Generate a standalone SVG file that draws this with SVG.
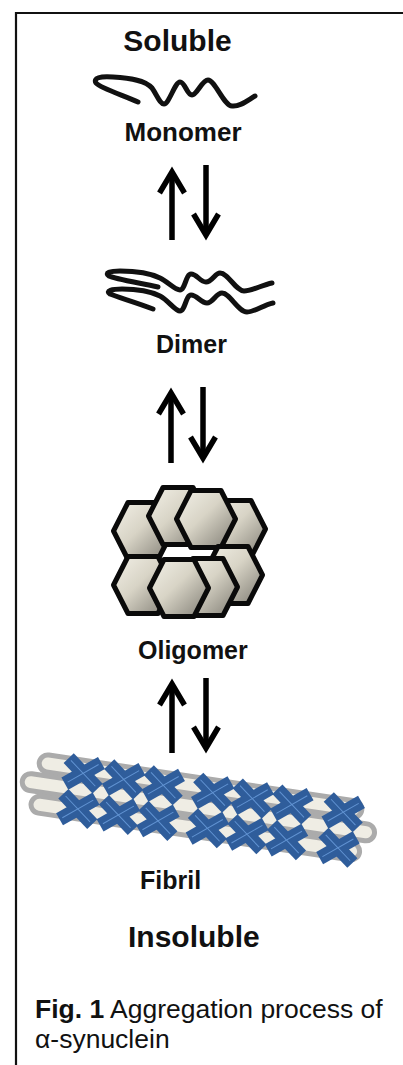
<svg xmlns="http://www.w3.org/2000/svg" width="403" height="1065" viewBox="0 0 403 1065">
<style>
.t{font-family:"Liberation Sans",Arial,sans-serif;fill:#111;}
.b{font-weight:bold;}
.sq{fill:none;stroke:#111;stroke-width:5;stroke-linecap:round;stroke-linejoin:round;}
.hex{fill:url(#hg);stroke:#0a0a0a;stroke-width:5;stroke-linejoin:round;}
.ar{fill:none;stroke:#000;stroke-width:5.5;marker-end:url(#ah);}
.tube{fill:#efede4;stroke:#ababab;stroke-width:5;}
.cx{fill:#2f5d9b;}
.cl{stroke:#6193d2;stroke-width:1;fill:none;}
</style>
<defs>
<linearGradient id="hg" x1="0" y1="0" x2="1" y2="1">
<stop offset="0" stop-color="#f3f1e8"/>
<stop offset="0.45" stop-color="#d8d4c6"/>
<stop offset="1" stop-color="#7f7c73"/>
</linearGradient>
<marker id="ah" markerUnits="userSpaceOnUse" markerWidth="40" markerHeight="40" viewBox="-30 -20 40 40" refX="0" refY="0" orient="auto" overflow="visible">
<path d="M-21,-12.5 L0,0 L-21,12.5" fill="none" stroke="#000" stroke-width="5.5" stroke-linejoin="miter"/>
</marker>
<polygon id="hx" points="-29.5,0 -15,-28.5 15,-28.5 29.5,0 15,28.5 -15,28.5"/>
<g id="xs">
<rect class="cx" x="-21" y="-7" width="42" height="14" transform="rotate(38)"/>
<rect class="cx" x="-21" y="-7" width="42" height="14" transform="rotate(-38)"/>
<path class="cl" d="M-14,-11 L14,11 M-14,11 L14,-11"/>
</g>
</defs>
<rect width="403" height="1065" fill="#fff"/>
<path d="M16,1065 V13 H403" fill="none" stroke="#111" stroke-width="2.2"/>

<g id="soluble"><text class="t b" x="177.5" y="51" font-size="30" text-anchor="middle">Soluble</text></g>

<g id="monomer">
<path class="sq" d="M138,102 C125,96 100,88 96,83 C93,78 100,76 113,77 C130,78 145,80 152,88 C157,95 160,104 164,104 C169,104 175,82 180,82 C185,82 187,95 192,95 C197,95 202,80 208,80 C215,80 224,106 232,106 C240,107 248,100 255,96"/>
<text class="t b" x="183" y="141" font-size="26" text-anchor="middle">Monomer</text>
</g>

<g id="dimer">
<path class="sq" d="M158,287 C140,283 115,279 109,276 C104,273 110,271 120,271 C135,271 150,273 160,278 C168,282 175,290 180,290 C185,290 186,274 191,274 C197,274 200,282 206,282 C212,282 215,273 220,273 C228,273 236,291 244,291 C252,291 262,285 272,283"/>
<path class="sq" d="M153,309 C138,303 117,297 110,294 C105,291 112,289 122,289 C137,289 150,291 160,296 C168,300 175,311 180,311 C185,311 186,295 191,295 C197,295 201,303 207,303 C213,303 216,293 222,293 C230,293 238,312 247,312 C255,312 263,305 273,303"/>
<text class="t b" x="191.5" y="353" font-size="25" text-anchor="middle">Dimer</text>
</g>

<g id="oligomer">
<use href="#hx" class="hex" x="143" y="531"/>
<use href="#hx" class="hex" x="236" y="529"/>
<use href="#hx" class="hex" x="178" y="516"/>
<use href="#hx" class="hex" x="206" y="519"/>
<use href="#hx" class="hex" x="143" y="585"/>
<use href="#hx" class="hex" x="233" y="575"/>
<use href="#hx" class="hex" x="208" y="587"/>
<use href="#hx" class="hex" x="179" y="588"/>
<text class="t b" x="138" y="659" font-size="25">Oligomer</text>
</g>

<g id="fibril">
<g transform="translate(200,810) rotate(8.5)">
<rect class="tube" x="-166" y="-32" width="326" height="17" rx="8.5"/>
<rect class="tube" x="-180" y="-11" width="356" height="17" rx="8.5"/>
<rect class="tube" x="-168" y="10" width="332" height="17" rx="8.5"/>
<use href="#xs" x="-121" y="-19"/>
<use href="#xs" x="-80" y="-19"/>
<use href="#xs" x="-40" y="-19"/>
<use href="#xs" x="10" y="-19"/>
<use href="#xs" x="50" y="-19"/>
<use href="#xs" x="90" y="-19"/>
<use href="#xs" x="142" y="-19"/>
<use href="#xs" x="-121" y="17"/>
<use href="#xs" x="-80" y="17"/>
<use href="#xs" x="-40" y="17"/>
<use href="#xs" x="10" y="17"/>
<use href="#xs" x="50" y="17"/>
<use href="#xs" x="90" y="17"/>
<use href="#xs" x="142" y="17"/>
</g>
<text class="t b" x="140" y="889" font-size="25">Fibril</text>
</g>

<g id="insoluble"><text class="t b" x="128" y="947" font-size="30">Insoluble</text></g>

<g id="caption">
<text class="t" x="35" y="1018" font-size="26.5"><tspan font-weight="bold">Fig. 1</tspan> Aggregation process of</text>
<text class="t" x="35" y="1048" font-size="26.5">α-synuclein</text>
</g>

<g id="connectors">
<path class="ar" d="M172,240 V172"/>
<path class="ar" d="M206,165 V235"/>
<path class="ar" d="M171,463 V393"/>
<path class="ar" d="M203,387 V458"/>
<path class="ar" d="M172,753 V684"/>
<path class="ar" d="M206,678 V748"/>
</g>
</svg>
